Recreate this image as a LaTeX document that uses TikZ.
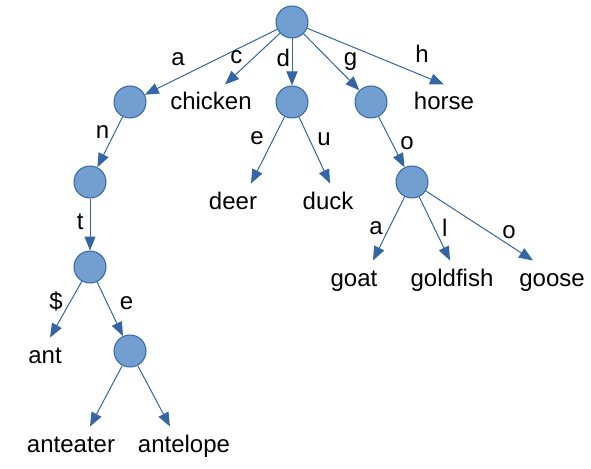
\documentclass[tikz,border=0pt]{standalone}
\usepackage{fontspec}
\setmainfont{Liberation Sans}
\usetikzlibrary{arrows.meta}
\definecolor{nodefill}{HTML}{729FCF}
\definecolor{nodeline}{HTML}{3465A4}

\begin{document}
\begin{tikzpicture}[->,>={Triangle[length=14pt,width=11pt]},auto,x=1pt,y=1pt,node distance=80pt,line width=1pt,font=\fontsize{24pt}{28pt}\selectfont]
  \tikzstyle{inner}=[circle,draw=nodeline,fill=nodefill,minimum size=32pt,inner sep=0pt]
  \tikzstyle{leaf}=[inner sep=0pt,text height=25pt,text depth=5pt]
  \tikzstyle{sym}=[inner sep=3pt,text height=13pt,text depth=0pt]
  \tikzset{every edge/.append style={draw=nodeline}}
  \useasboundingbox (0,0) rectangle (591,-468);

  \node[inner] 						(root) at (292,-22) {};
  \node[inner]      			   	(D) [below of=root] {};
  \node[inner]         				(A) [node distance=162pt,left of=D] {};
  \node[inner]			    		(G) [node distance=79pt,right of=D] {};
  \node[inner]			    		(AN) [below of=A,xshift=-40pt] {};
  \node[inner]			    		(ANT) [node distance=85pt,below of=AN] {};
  \node[inner]			    		(ANTE) [node distance=84pt,below of=ANT,xshift=40pt] {};
  \node[inner]			    		(GO) [below of=G,xshift=41pt] {};

  \node[leaf] (chicken)  at (211,-100) {chicken};
  \node[leaf] (horse)    at (444,-100) {horse};
  \node[leaf] (deer)     at (233,-199) {deer};
  \node[leaf] (duck)     at (328,-199) {duck};
  \node[leaf] (goat)     at (354,-276) {goat};
  \node[leaf] (goldfish) at (452,-276) {goldfish};
  \node[leaf] (goose)    at (552,-276) {goose};
  \node[leaf] (ant)      at (45,-353)  {ant};
  \node[leaf] (anteater) at (71,-442)  {anteater};
  \node[leaf] (antelope) at (184,-442) {antelope};

  \path (root) edge              				node[sym,pos=.65,swap,inner sep=6pt] 	{a} 	(A)
            edge              					node[sym,pos=.64,swap,inner sep=2pt] 	{c} 	([xshift=14pt]chicken.north)
            edge              					node[sym,pos=.45,swap,inner sep=1.5pt] 	{d} 	(D)
            edge              					node[sym,pos=.64,inner sep=4pt] 		{g} 	(G)
            edge              					node[sym,pos=.74,inner sep=6.5pt] 		{h} 	(horse.north)
        (A) edge 			 					node[sym,pos=.47,swap,inner sep=1pt] 	{n} 	(AN)
        (AN) edge 			 					node[sym,pos=.48,swap,inner sep=6pt] 	{t} 	(ANT)
        (ANT) edge 								node[sym,pos=.54,swap,inner sep=1.5pt] 	{\$} 	([xshift=5pt]ant.north)
        	edge 			 					node[sym,pos=.63,inner sep=6pt] 		{e} 	(ANTE)
        (ANTE) edge 																	([xshift=19pt]anteater.north)
        	edge 			 														([xshift=-14pt]antelope.north)
        (D) edge 								node[sym,pos=.49,swap,inner sep=4pt] 	{e} 	([xshift=18pt]deer.north)
        	edge 			 					node[sym,pos=.48] 						{u} 	([xshift=2pt]duck.north)
        (G) edge 								node[sym,pos=.71] 						{o} 	(GO)
        (GO) edge 								node[sym,pos=.63,swap,inner sep=1.5pt] 	{a} 	([xshift=19pt]goat.north)
        	edge 			 					node[sym,pos=.66,inner sep=2pt] 		{l} 	([xshift=-2pt]goldfish.north)
        	edge 			 					node[sym,pos=.70,inner sep=1pt] 		{o} 	([xshift=-19pt]goose.north);
\end{tikzpicture}
\end{document}
